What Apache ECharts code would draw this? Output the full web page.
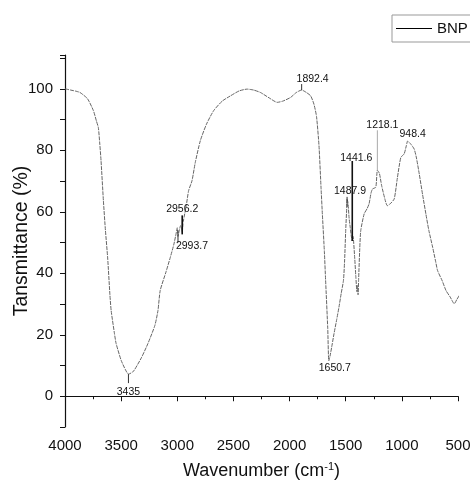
<!DOCTYPE html>
<html>
<head>
<meta charset="utf-8">
<script src="https://cdn.jsdelivr.net/npm/echarts@6/dist/echarts.min.js"></script>
<style>
  html, body { margin: 0; padding: 0; background: #fff; }
  #chart { width: 470px; height: 486px; }
</style>
</head>
<body>
<div id="chart"></div>
<script>
// FTIR spectrum of BNP
var wavenumber = [4000, 3950, 3900, 3866, 3800, 3747, 3720, 3703, 3690, 3679, 3658, 3640, 3620, 3600, 3589, 3560, 3545, 3500, 3460, 3435, 3400, 3381, 3320, 3262, 3200, 3172, 3152, 3100, 3062, 3030, 3010, 3000, 2993.7, 2985, 2970, 2962, 2956.2, 2950, 2946, 2920, 2899, 2869, 2840, 2795, 2740, 2676, 2600, 2527, 2450, 2378, 2320, 2259, 2180, 2110, 2060, 1991, 1940, 1892.4, 1850, 1812, 1783, 1760, 1738, 1720, 1708, 1690, 1679, 1660, 1650.7, 1640, 1620, 1604, 1580, 1560, 1540, 1520, 1510, 1500, 1490, 1487.9, 1480, 1470, 1460, 1450, 1441.6, 1435, 1420, 1410, 1400, 1395, 1390, 1385, 1375, 1366, 1336, 1310, 1292, 1275, 1262, 1232, 1218.1, 1200, 1180, 1150, 1130, 1104, 1068, 1040, 1009, 980, 960, 948.4, 920, 890, 870, 845, 815, 786, 760, 726, 700, 682, 640, 607, 570, 533, 510, 488]
var transmittance = [100, 99.6, 99.2, 98.8, 96.8, 92.9, 89.5, 87.4, 82, 76.6, 63.6, 54, 45, 33, 27.9, 20.5, 17.2, 11.7, 8.5, 7.2, 7.8, 8.6, 12.5, 17.1, 23, 27.9, 34.4, 40.5, 45.2, 49.5, 53, 54.8, 52, 53.5, 55.5, 55, 53.3, 55.5, 57, 62, 66.9, 70.1, 76, 83.1, 88.5, 92.9, 96, 97.7, 99.3, 99.9, 99.6, 98.8, 97, 95.6, 96, 97.2, 98.8, 99.6, 98.8, 97.7, 95, 91, 81.5, 68, 59.3, 47, 37.7, 22, 11.5, 13, 17, 20.4, 25, 29, 33.5, 37.7, 44, 54, 62, 64.2, 63, 58, 55, 52, 50.5, 52, 45, 39, 34, 36, 33, 38, 48, 53.9, 59.3, 61, 62.6, 66, 67.4, 68, 73.5, 72.5, 68.5, 64, 62, 62.6, 64.2, 71, 77.7, 78.8, 81.5, 83, 82, 80.4, 77.5, 72.3, 65.5, 59.3, 54, 48.5, 44, 40.9, 37.5, 34.4, 32.3, 30.1, 31.5, 32.8]

// labelled peaks
var peakWn = [3435, 2993.7, 2956.2, 1892.4, 1650.7, 1487.9, 1441.6, 1218.1, 948.4]
var peakT = [7.2, 52, 53.3, 99.6, 11.5, 64.2, 50.5, 73.5, 83]
var peakText = ['3435', '2993.7', '2956.2', '1892.4', '1650.7', '1487.9', '1441.6', '1218.1', '948.4']

var xTicks = [4000, 3500, 3000, 2500, 2000, 1500, 1000, 500]
var yTicks = [0, 20, 40, 60, 80, 100]

// leader line (dy0 -> dy1) and label offset, in pixels from the peak point
var annLayout = [
  { y0: 0, y1: 9, lx: 0, ly: 18, w: 1, c: '#333' },
  { y0: -6, y1: 6, lx: 14, ly: 10, w: 1, c: '#333' },
  { y0: 2, y1: -17, lx: 0, ly: -23, w: 1.6, c: '#111' },
  { y0: 0, y1: -6, lx: 11, ly: -11, w: 1, c: '#333' },
  { y0: 0, y1: 0, lx: 6, ly: 7, w: 1, c: '#333' },
  { y0: -2, y1: 8, lx: 3, ly: -8, w: 1, c: '#333' },
  { y0: 0, y1: -80, lx: 4, ly: -83, w: 1.6, c: '#111' },
  { y0: 0, y1: -40, lx: 5, ly: -45, w: 1, c: '#aaa' },
  { y0: 0, y1: 0, lx: 5, ly: -7, w: 1, c: '#333' }
]

var chart = echarts.init(document.getElementById('chart'))
var font = 'Liberation Sans, Arial, sans-serif'

var spectrum = wavenumber.map(function (w, i) { return [w, transmittance[i]] })
var peaks = peakWn.map(function (w, i) { return [w, peakT[i], i] })

chart.setOption({
  animation: false,
  backgroundColor: '#fff',
  grid: { left: 65, right: 12, top: 55, bottom: 59, outerBoundsMode: 'none', containLabel: false },
  legend: {
    left: 392, top: 15,
    padding: [6, 24, 6, 4],
    borderColor: '#999', borderWidth: 1,
    itemWidth: 36, itemHeight: 1.2, itemGap: 6,
    data: [{ name: 'BNP', icon: 'rect', itemStyle: { color: '#000' } }],
    textStyle: { fontFamily: font, fontSize: 15, color: '#111' }
  },
  xAxis: {
    type: 'value', inverse: true,
    min: 500, max: 4000, interval: 500,
    name: 'Wavenumber (cm{sup|-1})',
    nameLocation: 'middle', nameGap: 34, nameMoveOverlap: false,
    nameTextStyle: {
      fontFamily: font, fontSize: 18, color: '#111',
      rich: { sup: { fontFamily: font, fontSize: 11, verticalAlign: 'top', padding: [0, 0, 9, 0] } }
    },
    axisLine: { lineStyle: { color: '#111', width: 1.2 } },
    axisTick: { show: true, length: 5, lineStyle: { color: '#111' } },
    minorTick: { show: true, splitNumber: 2, length: 3, lineStyle: { color: '#111' } },
    splitLine: { show: false },
    axisLabel: {
      margin: 11, fontFamily: font, fontSize: 15, color: '#111',
      formatter: function (v) { return xTicks.indexOf(v) >= 0 ? String(v) : '' }
    }
  },
  yAxis: {
    type: 'value',
    min: -10, max: 111, interval: 10,
    name: 'Tansmittance (%)',
    nameLocation: 'middle', nameGap: 33, nameMoveOverlap: false,
    nameTextStyle: { fontFamily: font, fontSize: 19.5, color: '#111' },
    axisLine: { show: true, lineStyle: { color: '#111', width: 1.2 } },
    axisTick: { show: true, length: 5, lineStyle: { color: '#111' } },
    splitLine: { show: false },
    axisLabel: {
      margin: 12, fontFamily: font, fontSize: 15, color: '#111',
      formatter: function (v) { return yTicks.indexOf(v) >= 0 ? String(v) : '' }
    }
  },
  series: [
    {
      name: 'BNP', type: 'line', data: spectrum,
      showSymbol: false, smooth: 0.2,
      lineStyle: { color: '#666', width: 1, type: [4, 1] },
      z: 2
    },
    {
      type: 'custom', data: peaks, z: 3,
      renderItem: function (params, api) {
        var p = api.coord([api.value(0), api.value(1)])
        var a = annLayout[api.value(2)]
        var kids = []
        if (a.y0 !== a.y1) {
          kids.push({
            type: 'line',
            shape: { x1: p[0], y1: p[1] + a.y0, x2: p[0], y2: p[1] + a.y1 },
            style: { stroke: a.c, lineWidth: a.w }
          })
        }
        kids.push({
          type: 'text',
          x: p[0] + a.lx, y: p[1] + a.ly,
          style: {
            text: peakText[api.value(2)],
            fontFamily: font, fontSize: 10.5, fill: '#111',
            align: 'center', verticalAlign: 'middle'
          }
        })
        return { type: 'group', children: kids }
      }
    }
  ]
})
</script>
</body>
</html>
